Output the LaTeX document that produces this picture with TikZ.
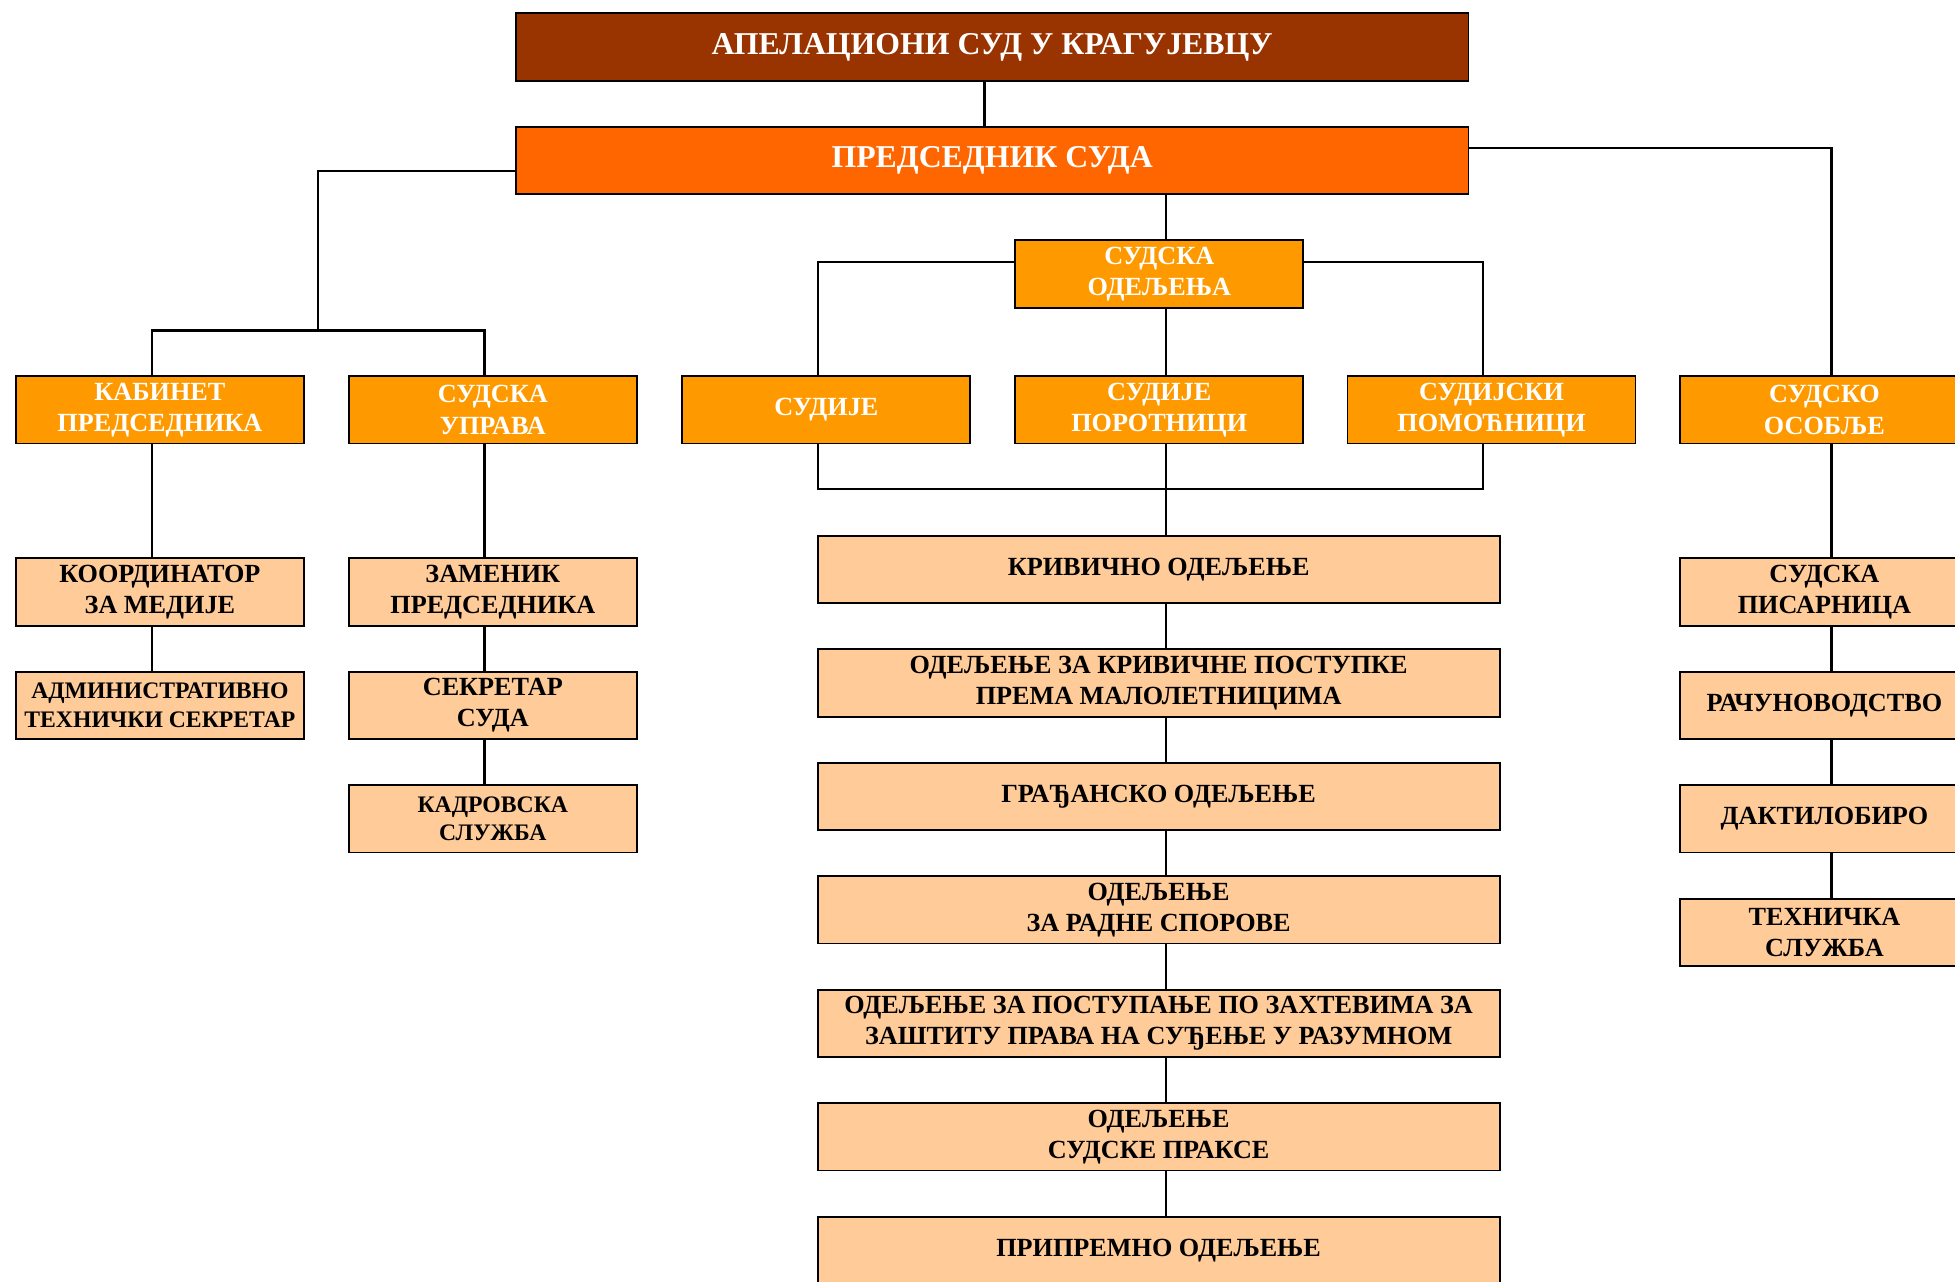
\documentclass[tikz,border=0pt]{standalone}
\usepackage{fontspec}
\setmainfont{Liberation Serif}
\definecolor{cCourt}{HTML}{993300}
\definecolor{cPres}{HTML}{FF6600}
\definecolor{cOrange}{HTML}{FF9900}
\definecolor{cLight}{HTML}{FFCC99}
\begin{document}
\begin{tikzpicture}[x=1pt,y=-1pt]
\tikzset{
  boxbase/.style={draw=black, line width=1.5pt, minimum height=54pt, inner sep=0pt,
    anchor=north west, align=center, font=\bfseries\fontsize{21}{25}\selectfont},
  headbox/.style={boxbase, minimum width=764pt, text=white, font=\bfseries\fontsize{25.5}{30}\selectfont},
  orbox/.style={boxbase, minimum width=231pt, fill=cOrange, text=white},
  ltbox/.style={boxbase, minimum width=231pt, fill=cLight, text=black},
  midbox/.style={boxbase, minimum width=547pt, fill=cLight, text=black},
  smalltxt/.style={font=\bfseries\fontsize{19}{23}\selectfont},
  conn/.style={draw=black, line width=1.8pt}
}
\useasboundingbox (0,0) rectangle (1568,1028);
\clip (0,0) rectangle (1568,1028);
\fill[white] (0,0) rectangle (1568,1028);

% column / row helper coordinates
\coordinate (xA) at (789.7,0);
\coordinate (xM) at (935,0);
\coordinate (xK) at (121.7,0);
\coordinate (xU) at (388.5,0);
\coordinate (xS) at (656,0);
\coordinate (xP) at (1189.4,0);
\coordinate (xO) at (1469,0);
\coordinate (xJ) at (255,0);
\coordinate (yPL) at (0,137);
\coordinate (yPR) at (0,119);
\coordinate (yJ) at (0,265);
\coordinate (yO) at (0,210);
\coordinate (yB) at (0,392);

% nodes
\node[headbox, fill=cCourt] (court) at (413,10) {АПЕЛАЦИОНИ СУД У КРАГУЈЕВЦУ};
\node[headbox, fill=cPres] (pres) at (413,101) {ПРЕДСЕДНИК СУДА};
\node[orbox] (odelj) at (813.5,192) {СУДСКА\\ОДЕЉЕЊА};

\node[orbox] (kab) at (12,301) {КАБИНЕТ\\ПРЕДСЕДНИКА};
\node[orbox] (upr) at (279,301) {СУДСКА\\УПРАВА};
\node[orbox] (sudije) at (546.5,301) {СУДИЈЕ};
\node[orbox] (porot) at (813.5,301) {СУДИЈЕ\\ПОРОТНИЦИ};
\node[orbox] (pomoc) at (1080,301) {СУДИЈСКИ\\ПОМОЋНИЦИ};
\node[orbox] (osob) at (1347,301) {СУДСКО\\ОСОБЉЕ};

\node[ltbox] (koord) at (12,447) {КООРДИНАТОР\\ЗА МЕДИЈЕ};
\node[ltbox, smalltxt] (admin) at (12,538) {АДМИНИСТРАТИВНО\\ТЕХНИЧКИ СЕКРЕТАР};
\node[ltbox] (zamen) at (279,447) {ЗАМЕНИК\\ПРЕДСЕДНИКА};
\node[ltbox] (sekr) at (279,538) {СЕКРЕТАР\\СУДА};
\node[ltbox, smalltxt] (kadr) at (279,629) {КАДРОВСКА\\СЛУЖБА};

\node[midbox] (kriv) at (655,429) {КРИВИЧНО ОДЕЉЕЊЕ};
\node[midbox] (malol) at (655,520) {ОДЕЉЕЊЕ ЗА КРИВИЧНЕ ПОСТУПКЕ\\ПРЕМА МАЛОЛЕТНИЦИМА};
\node[midbox] (gradj) at (655,611) {ГРАЂАНСКО ОДЕЉЕЊЕ};
\node[midbox] (radni) at (655,702) {ОДЕЉЕЊЕ\\ЗА РАДНЕ СПОРОВЕ};
\node[midbox] (razum) at (655,793) {ОДЕЉЕЊЕ ЗА ПОСТУПАЊЕ ПО ЗАХТЕВИМА ЗА\\ЗАШТИТУ ПРАВА НА СУЂЕЊЕ У РАЗУМНОМ};
\node[midbox] (praksa) at (655,884) {ОДЕЉЕЊЕ\\СУДСКЕ ПРАКСЕ};
\node[midbox] (pripr) at (655,975) {ПРИПРЕМНО ОДЕЉЕЊЕ};

\node[ltbox] (pisar) at (1347,447) {СУДСКА\\ПИСАРНИЦА};
\node[ltbox] (racun) at (1347,538) {РАЧУНОВОДСТВО};
\node[ltbox] (dakt) at (1347,629) {ДАКТИЛОБИРО};
\node[ltbox] (tehn) at (1347,720) {ТЕХНИЧКА\\СЛУЖБА};

% connectors
\draw[conn] (court.south -| xA) -- (pres.north -| xA);
\draw[conn] (pres.west |- yPL) -- (xJ |- yPL) -- (xJ |- yJ);
\draw[conn] (kab.north -| xK) -- (xK |- yJ) -- (xU |- yJ) -- (upr.north -| xU);
\draw[conn] (pres.east |- yPR) -- (xO |- yPR) -- (osob.north -| xO);
\draw[conn] (pres.south -| xM) -- (odelj.north -| xM);
\draw[conn] (odelj.west |- yO) -- (xS |- yO) -- (sudije.north -| xS);
\draw[conn] (odelj.east |- yO) -- (xP |- yO) -- (pomoc.north -| xP);
\draw[conn] (odelj.south -| xM) -- (porot.north -| xM);
\draw[conn] (sudije.south -| xS) -- (xS |- yB) -- (xP |- yB) -- (pomoc.south -| xP);
\draw[conn] (porot.south -| xM) -- (kriv.north -| xM);
\draw[conn] (kriv.south -| xM) -- (malol.north -| xM);
\draw[conn] (malol.south -| xM) -- (gradj.north -| xM);
\draw[conn] (gradj.south -| xM) -- (radni.north -| xM);
\draw[conn] (radni.south -| xM) -- (razum.north -| xM);
\draw[conn] (razum.south -| xM) -- (praksa.north -| xM);
\draw[conn] (praksa.south -| xM) -- (pripr.north -| xM);
\draw[conn] (kab.south -| xK) -- (koord.north -| xK);
\draw[conn] (koord.south -| xK) -- (admin.north -| xK);
\draw[conn] (upr.south -| xU) -- (zamen.north -| xU);
\draw[conn] (zamen.south -| xU) -- (sekr.north -| xU);
\draw[conn] (sekr.south -| xU) -- (kadr.north -| xU);
\draw[conn] (osob.south -| xO) -- (pisar.north -| xO);
\draw[conn] (pisar.south -| xO) -- (racun.north -| xO);
\draw[conn] (racun.south -| xO) -- (dakt.north -| xO);
\draw[conn] (dakt.south -| xO) -- (tehn.north -| xO);
\end{tikzpicture}
\end{document}
